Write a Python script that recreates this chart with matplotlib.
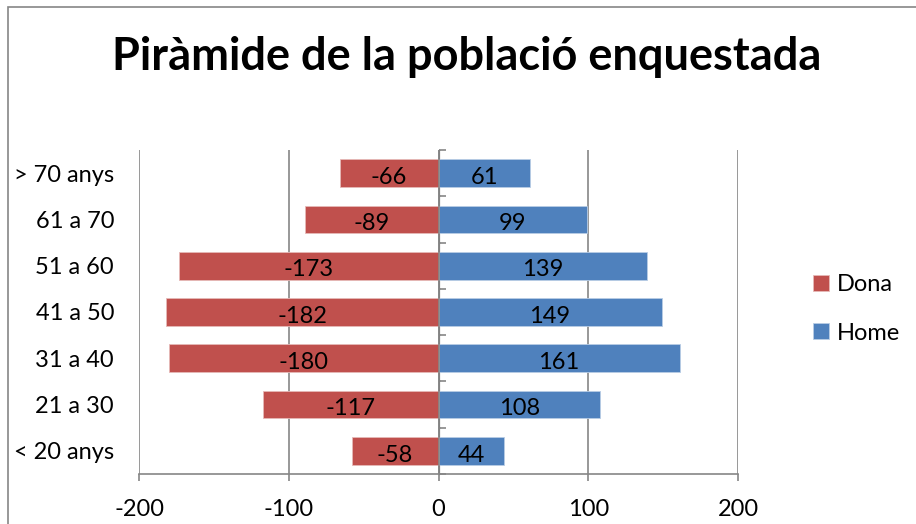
import matplotlib.pyplot as plt
from matplotlib.patches import Rectangle

# data (bottom to top)
groups = ["< 20 anys", "21 a 30", "31 a 40", "41 a 50", "51 a 60", "61 a 70", "> 70 anys"]
dona = [-58, -117, -180, -182, -173, -89, -66]
home = [44, 108, 161, 149, 139, 99, 61]
x_ticks = [-200, -100, 0, 100, 200]

RED = "#C0504D"
BLUE = "#4F81BD"
GRID = "#868686"
FONT = "Lato"
FS = 17

plt.rcParams['font.family'] = [FONT, 'DejaVu Sans']

fig = plt.figure(figsize=(9.16, 5.24), dpi=100)
ax = fig.add_axes([139 / 916, 1 - 474 / 524, 599 / 916, 324 / 524])

# outer chart frame (continues past the right and bottom edges)
fig.patches.append(Rectangle((8 / 916, -0.1), 1.2, 1 - 7 / 524 + 0.1,
                             transform=fig.transFigure, fill=False,
                             edgecolor=GRID, linewidth=1.2))

pos = list(range(len(groups)))
b1 = ax.barh(pos, dona, height=0.6, color=RED, edgecolor="#E6B9B8", linewidth=0.6, label="Dona", zorder=3)
b2 = ax.barh(pos, home, height=0.6, color=BLUE, edgecolor="#B9CDE5", linewidth=0.6, label="Home", zorder=3)

for bars, vals in ((b1, dona), (b2, home)):
    for rect, v in zip(bars, vals):
        cx = rect.get_x() + rect.get_width() / 2
        cy = rect.get_y() + rect.get_height() / 2
        ax.annotate(str(v), (cx, cy), xytext=(0, -3), textcoords="offset points",
                    ha="center", va="center", fontsize=FS, color="black", zorder=4)

ax.set_xlim(-200, 200)
ax.set_ylim(-0.5, len(groups) - 0.5)
ax.set_xticks(x_ticks)
ax.set_xticklabels([str(t) for t in x_ticks], fontsize=FS)
ax.set_yticks(pos)
ax.set_yticklabels(groups, fontsize=FS)
ax.tick_params(axis="y", length=0, pad=18)
ax.tick_params(axis="x", length=5, color=GRID, width=1.2, pad=13)

ax.xaxis.grid(True, color=GRID, linewidth=1.2, zorder=0)
ax.set_axisbelow(True)
for s in ("top", "right", "left"):
    ax.spines[s].set_visible(False)
ax.spines["bottom"].set_color(GRID)
ax.spines["bottom"].set_linewidth(1.2)

# vertical category axis at x = 0 with tick marks between categories
zero_frac = (0 - x_ticks[0]) / (x_ticks[-1] - x_ticks[0])
sec = ax.secondary_yaxis(zero_frac)
sec.set_yticks([p - 0.5 for p in pos] + [len(groups) - 0.5])
sec.set_yticklabels([])
sec.tick_params(length=5, color=GRID, width=1.2, direction="out")
sec.spines["left"].set_color(GRID)
sec.spines["left"].set_linewidth(1.2)
ax.axvline(0, color=GRID, linewidth=1.2, zorder=5)

fig.text(467 / 916, 1 - 57 / 524, "Piràmide de la població enquestada",
         ha="center", va="center", fontsize=32.5, fontweight="bold")

fig.legend(handles=[b1, b2], loc="center left", bbox_to_anchor=(792 / 916, 1 - 309 / 524),
           frameon=False, fontsize=FS, handlelength=0.65, handleheight=0.65,
           handletextpad=0.35, labelspacing=1.15)

fig.savefig("out.png", dpi=100)
